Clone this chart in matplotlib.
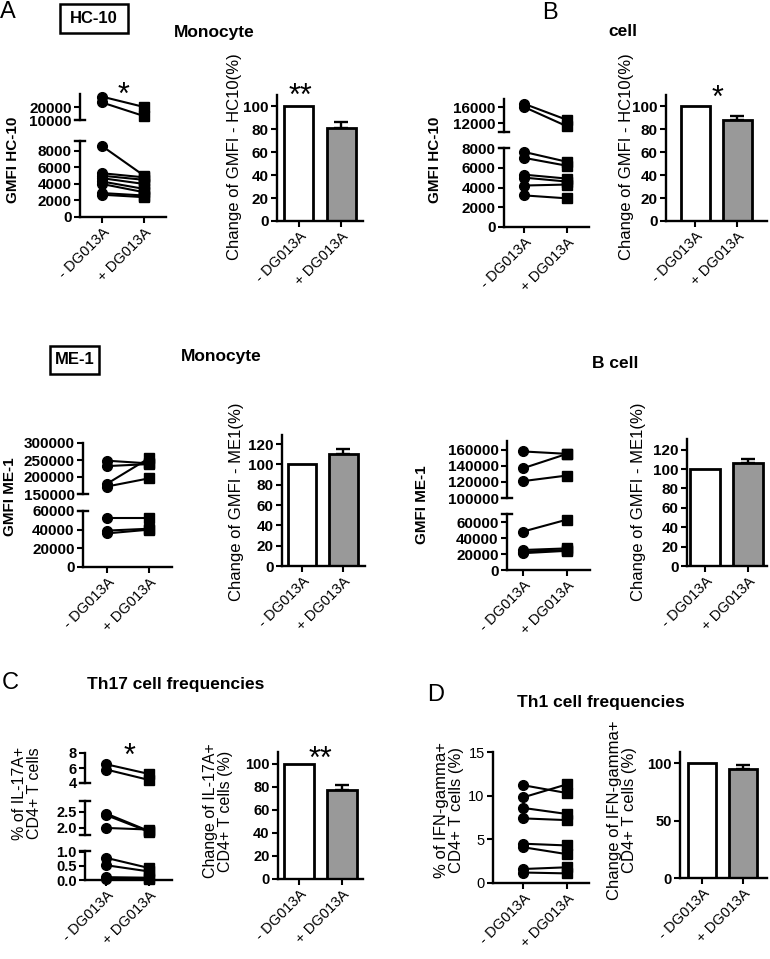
import matplotlib
matplotlib.use('Agg')
import matplotlib.pyplot as plt
from matplotlib.patches import Rectangle

plt.rcParams['font.family'] = ['Liberation Sans', 'DejaVu Sans']

# ---- data ----
groups = ['- DG013A', '+ DG013A']

# A: HC-10 on monocytes (GMFI), paired donors
hc10_mono_pre = [28000, 23500, 8600, 5300, 5000, 4700, 4300, 4000, 2900, 2700]
hc10_mono_post = [20000, 13000, 5000, 4800, 4500, 4000, 3400, 3000, 2600, 2400]
hc10_mono_change = [100, 81]
hc10_mono_sem = 5

# B: HC-10 on B cells
hc10_b_pre = [16800, 16000, 7600, 7000, 5300, 5000, 4200, 3200]
hc10_b_post = [12800, 11200, 6600, 6200, 4900, 4600, 4300, 2900]
hc10_b_change = [100, 88]
hc10_b_sem = 3.5

# ME-1 on monocytes
me1_mono_pre = [248000, 232000, 180000, 172000, 52000, 39000, 36000]
me1_mono_post = [240000, 238000, 255000, 196000, 52000, 41000, 40000]
me1_mono_change = [100, 110]
me1_mono_sem = 5

# ME-1 on B cells
me1_b_pre = [158000, 137000, 121000, 48000, 25000, 23000, 21000]
me1_b_post = [155000, 155000, 128000, 63000, 27000, 25000, 24000]
me1_b_change = [100, 106]
me1_b_sem = 4

# C: Th17 frequencies (%)
th17_pre = [6.5, 5.8, 2.45, 2.4, 2.0, 0.78, 0.52, 0.1, 0.05]
th17_post = [5.2, 4.4, 1.9, 1.88, 1.95, 0.42, 0.3, 0.08, 0.05]
th17_change = [100, 77]
th17_sem = 4

# D: Th1 frequencies (%)
th1_pre = [11.2, 9.8, 8.6, 7.4, 4.5, 4.1, 1.6, 1.2]
th1_post = [10.3, 11.3, 7.9, 7.2, 4.3, 3.3, 1.8, 1.1]
th1_change = [100, 95]
th1_sem = 3.5

W, H = 770, 959
fig = plt.figure(figsize=(W / 100, H / 100), dpi=100)


def px_axes(x0, y0, x1, y1):
    return fig.add_axes([x0 / W, 1 - y1 / H, (x1 - x0) / W, (y1 - y0) / H])


def ftext(x, y, s, **kw):
    fig.text(x / W, 1 - y / H, s, **kw)


def xaxis_labels(ax):
    ax.set_xticks([0, 1], labels=groups, rotation=45, ha='right',
                  rotation_mode='anchor', fontsize=10.5)


def paired(x0, x1, xlim, segs, pre, post, weight='bold', fs=11):
    # segs: (top px, bottom px, ylim, yticks, label format), top to bottom
    n = len(segs)
    cw = 5 / (x1 - x0)
    for i, (yt, yb, lim, ticks, fmt) in enumerate(segs):
        ax = px_axes(x0, yt, x1, yb)
        ax.patch.set_visible(False)
        ax.set_xlim(*xlim)
        ax.set_ylim(*lim)
        for s in ['top', 'right']:
            ax.spines[s].set_visible(False)
        ax.spines['left'].set_linewidth(1.7)
        ax.set_yticks(ticks, labels=[fmt.format(t) for t in ticks],
                      fontweight=weight, fontsize=fs)
        if i == n - 1:
            ax.spines['bottom'].set_linewidth(1.7)
            xaxis_labels(ax)
        else:
            ax.spines['bottom'].set_visible(False)
            ax.set_xticks([])
        ax.tick_params(width=1.5, length=4, pad=2)
        # break caps
        if i > 0:
            ax.plot([-cw, cw], [1, 1], transform=ax.transAxes, color='k', lw=1.7, clip_on=False)
        if i < n - 1:
            ax.plot([-cw, cw], [0, 0], transform=ax.transAxes, color='k', lw=1.7, clip_on=False)
        lo, hi = lim
        for a, b in zip(pre, post):
            if lo <= a <= hi and lo <= b <= hi:
                ax.plot([0, 1], [a, b], color='k', lw=1.5, clip_on=False, zorder=3)
                ax.plot([0], [a], 'o', color='k', ms=7, clip_on=False, zorder=4)
                ax.plot([1], [b], 's', color='k', ms=6.5, clip_on=False, zorder=4)


def bar_panel(x0, y0, x1, y1, xlim, ylim, yticks, vals, err, weight='bold', fs=11):
    ax = px_axes(x0, y0, x1, y1)
    ax.bar([0, 1], vals, width=0.69, color=['white', '#999999'],
           edgecolor='k', linewidth=2, zorder=2)
    ax.errorbar([1], [vals[1]], yerr=[[0], [err]], fmt='none', ecolor='k',
                elinewidth=1.7, capsize=5, capthick=1.7, zorder=1)
    ax.set_xlim(*xlim)
    ax.set_ylim(*ylim)
    for s in ['top', 'right']:
        ax.spines[s].set_visible(False)
    for s in ['left', 'bottom']:
        ax.spines[s].set_linewidth(1.7)
    ax.set_yticks(yticks, labels=[str(t) for t in yticks], fontweight=weight, fontsize=fs)
    xaxis_labels(ax)
    ax.tick_params(width=1.5, length=4, pad=2)


# ---- row 1: HC-10 ----
paired(80, 166, (-0.52, 1.52),
       [(94, 120, (10000, 30000), [10000, 20000], '{:d}'),
        (141, 217, (0, 9200), [0, 2000, 4000, 6000, 8000], '{:d}')],
       hc10_mono_pre, hc10_mono_post)
bar_panel(277, 95, 363, 221, (-0.52, 1.52), (0, 110), list(range(0, 101, 20)),
          hc10_mono_change, hc10_mono_sem)

paired(504, 589, (-0.47, 1.51),
       [(99, 132, (9800, 18000), [12000, 16000], '{:d}'),
        (148, 227, (0, 8000), [0, 2000, 4000, 6000, 8000], '{:d}')],
       hc10_b_pre, hc10_b_post)
bar_panel(666, 95, 767, 221, (-0.69, 1.71), (0, 110), list(range(0, 101, 20)),
          hc10_b_change, hc10_b_sem)

# ---- row 2: ME-1 ----
paired(83, 172, (-0.57, 1.55),
       [(443, 494, (150000, 300000), [150000, 200000, 250000, 300000], '{:d}'),
        (511, 567, (0, 60000), [0, 20000, 40000, 60000], '{:d}')],
       me1_mono_pre, me1_mono_post)
bar_panel(282, 435, 365, 566, (-0.48, 1.52), (0, 129), list(range(0, 121, 20)),
          me1_mono_change, me1_mono_sem)

paired(507, 590, (-0.36, 1.52),
       [(441, 498, (100000, 171000), [100000, 120000, 140000, 160000], '{:d}'),
        (514, 570, (0, 70000), [0, 20000, 40000, 60000], '{:d}')],
       me1_b_pre, me1_b_post)
bar_panel(687, 439, 767, 566, (-0.42, 1.44), (0, 131), list(range(0, 121, 20)),
          me1_b_change, me1_b_sem)

# ---- row 3: Th17 / Th1 ----
paired(85, 172, (-0.49, 1.53),
       [(753, 783, (4, 8), [4, 6, 8], '{:d}'),
        (801, 835, (1.78, 2.84), [2.0, 2.5], '{:.1f}'),
        (851, 880, (0, 1.02), [0.0, 0.5, 1.0], '{:.1f}')],
       th17_pre, th17_post, fs=10.5)
bar_panel(278, 752, 363, 879, (-0.49, 1.49), (0, 110), list(range(0, 101, 20)),
          th17_change, th17_sem, fs=10.5)

paired(493, 589, (-0.68, 1.5),
       [(752, 883, (0, 15), [0, 5, 10, 15], '{:d}')],
       th1_pre, th1_post, weight='normal', fs=10.5)
bar_panel(680, 752, 767, 878, (-0.54, 1.59), (0, 110), [0, 50, 100],
          th1_change, th1_sem, fs=10.5)

# ---- y labels ----
ylabels = [
    (13, 160, 'GMFI HC-10', 'bold', 11),
    (235, 157, 'Change of GMFI - HC10(%)', 'normal', 12),
    (435, 160, 'GMFI HC-10', 'bold', 11),
    (627, 157, 'Change of GMFI - HC10(%)', 'normal', 12),
    (10, 497, 'GMFI ME-1', 'bold', 11),
    (237, 502, 'Change of GMFI - ME1(%)', 'normal', 12),
    (422, 505, 'GMFI ME-1', 'bold', 11),
    (638, 502, 'Change of GMFI - ME1(%)', 'normal', 12),
    (27, 793, '% of IL-17A+\nCD4+ T cells', 'normal', 11.5),
    (218, 811, 'Change of IL-17A+\nCD4+ T cells (%)', 'normal', 11.5),
    (449, 810, '% of IFN-gamma+\nCD4+ T cells (%)', 'normal', 12),
    (622, 810, 'Change of IFN-gamma+\nCD4+ T cells (%)', 'normal', 12),
]
for x, y, s, w, f in ylabels:
    ftext(x, y, s, rotation=90, ha='center', va='center', fontweight=w,
          fontsize=f, multialignment='center', linespacing=1.05)

# ---- titles, panel letters, boxes ----
for x, y, s in [(8, 12, 'A'), (550, 13, 'B'), (10, 683, 'C'), (436, 695, 'D')]:
    ftext(x, y, s, ha='center', va='center', fontsize=17)

for x, y, s in [(214, 32, 'Monocyte'), (623, 32, 'cell'), (221, 357, 'Monocyte'),
                (615, 363, 'B cell'), (176, 685, 'Th17 cell frequencies'),
                (601, 703, 'Th1 cell frequencies')]:
    ftext(x, y, s, ha='center', va='center', fontsize=12.5, fontweight='bold')


def fig_box(x0, y0, x1, y1, label):
    fig.patches.append(Rectangle((x0 / W, 1 - y1 / H), (x1 - x0) / W, (y1 - y0) / H,
                                 transform=fig.transFigure, fill=False, ec='k', lw=1.8))
    ftext((x0 + x1) / 2, (y0 + y1) / 2, label, ha='center', va='center',
          fontsize=12, fontweight='bold')


fig_box(60, 4, 128, 33, 'HC-10')
fig_box(50, 346, 99, 374, 'ME-1')

# significance marks
for x, y, s in [(124, 86, '*'), (300, 87, '**'), (718, 89, '*'),
                (130, 747, '*'), (320, 750, '**')]:
    ftext(x, y + 18, s, ha='center', va='baseline', fontsize=22)

fig.savefig('out.png', dpi=100)
